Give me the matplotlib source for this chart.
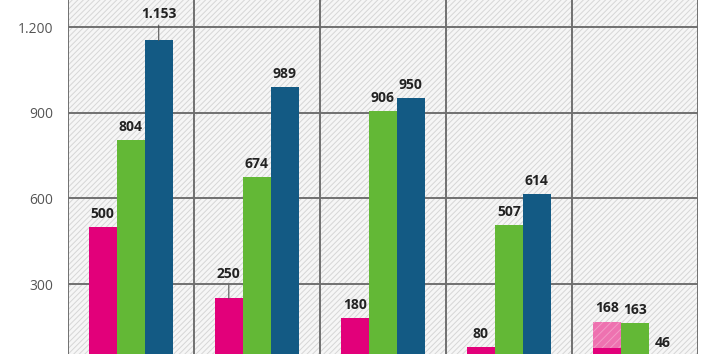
import matplotlib
matplotlib.use("Agg")
import matplotlib.pyplot as plt
from matplotlib.patches import Rectangle
import numpy as np

plt.rcParams['font.family'] = ['Open Sans', 'DejaVu Sans']
plt.rcParams['hatch.linewidth'] = 0.7

groups = ["G1", "G2", "G3", "G4", "G5"]
pink = [500, 250, 180, 80, 168]
pink_dark_last = 75
green = [804, 674, 906, 507, 163]
blue = [1153, 989, 950, 614, 46]
yticks = [300, 600, 900, 1200]
ytick_labels = ["300", "600", "900", "1.200"]

def fmt(v):
    return f"{v:,}".replace(",", ".")

W, H = 707, 354
fig = plt.figure(figsize=(W / 100, H / 100), dpi=100)
y0 = 369.7
ppu = 0.28556
top_val = 1300
ax_bottom = (H - y0) / H
ax_height = (top_val * ppu) / H
x_left, x_right = 67.7, 698.0
ax = fig.add_axes([x_left / W, ax_bottom, (x_right - x_left) / W, ax_height])
ax.set_xlim(-0.5, len(groups) - 0.5)
ax.set_ylim(0, top_val)

ax.patch.set_facecolor("#f6f6f6")
bg = Rectangle((0, 0), 1, 1, transform=ax.transAxes, facecolor="#f6f6f6",
               edgecolor="#d6d6d6", hatch="//////", linewidth=0, zorder=0)
ax.add_patch(bg)

grid_c = "#707070"
for yv in yticks:
    ax.axhline(yv, color=grid_c, lw=1.4, zorder=1)
for xv in np.arange(-0.5, len(groups), 1.0):
    ax.axvline(xv, color=grid_c, lw=1.4, zorder=1)

x = np.arange(len(groups))
bw = 0.222
c_pink = "#E2007A"
c_pink_light = "#EE72B0"
c_green = "#63B836"
c_blue = "#135A84"

ax.bar(x[:4] - bw, pink[:4], bw, color=c_pink, zorder=3, linewidth=0)
ax.bar(x[4] - bw, pink_dark_last, bw, color=c_pink, zorder=3, linewidth=0)
ax.bar(x[4] - bw, pink[4] - pink_dark_last, bw, bottom=pink_dark_last,
       color=c_pink_light, edgecolor="#F39AC6", hatch="////", linewidth=0, zorder=3)
ax.bar(x, green, bw, color=c_green, zorder=3, linewidth=0)
ax.bar(x + bw, blue, bw, color=c_blue, zorder=3, linewidth=0)

txt_kw = dict(ha="center", va="bottom", fontsize=10, fontweight="bold", color="#222222", zorder=5)

def label(xc, v, off=4.5, lead=False):
    if lead:
        ax.annotate(fmt(v), xy=(xc, v), xytext=(0, off), textcoords="offset points",
                    arrowprops=dict(arrowstyle="-", color="#555555", lw=0.8,
                                    shrinkA=1, shrinkB=0), **txt_kw)
    else:
        ax.annotate(fmt(v), xy=(xc, v), xytext=(0, off), textcoords="offset points", **txt_kw)

for i in range(len(groups)):
    if i == 1:
        label(x[i] - bw, pink[i], off=12.5, lead=True)
    else:
        label(x[i] - bw, pink[i])
    label(x[i], green[i])
    if i == 0:
        label(x[i] + bw, blue[i], off=14, lead=True)
    else:
        label(x[i] + bw, blue[i])

ax.set_xticks([])
ax.set_yticks(yticks)
ax.set_yticklabels(ytick_labels)
ax.tick_params(axis="y", length=0, pad=10.5, labelsize=10, labelcolor="#555555")
for s in ax.spines.values():
    s.set_visible(False)

fig.savefig("out.png", dpi=100)
